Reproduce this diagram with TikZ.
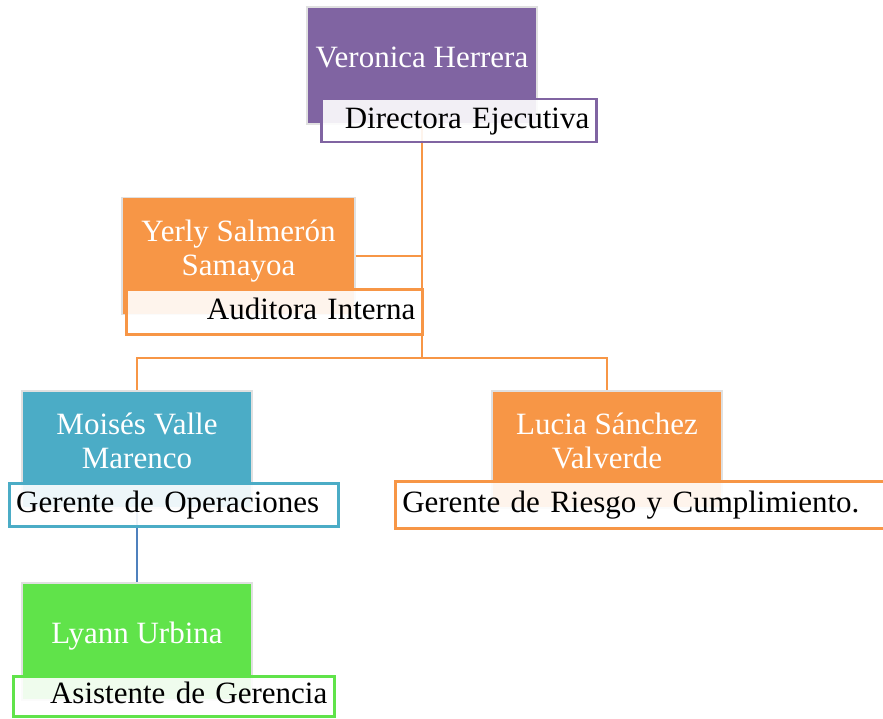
\documentclass[tikz,border=0pt]{standalone}
\usepackage{fontspec}
\setmainfont{Liberation Serif}
\usetikzlibrary{backgrounds}

\definecolor{morado}{HTML}{8064A2}
\definecolor{naranja}{HTML}{F79646}
\definecolor{celeste}{HTML}{4BACC6}
\definecolor{verde}{HTML}{60E34A}
\definecolor{azul}{HTML}{4F81BD}

\begin{document}
\begin{tikzpicture}[
    x=1pt, y=-1pt,
    every node/.style = {
      shape=rectangle,
      font=\fontsize{31}{34}\selectfont
    },
    namebox/.style = {
      fill=#1,
      draw=black!12,
      line width=1.5,
      minimum width=230,
      minimum height=117,
      inner sep=0,
      align=center,
      text=white,
      text depth=17.5
    },
    titlebox/.style = {
      anchor=north west,
      draw=#1,
      line width=2.5,
      fill=white,
      fill opacity=0.9,
      text opacity=1,
      minimum height=43,
      inner xsep=7,
      inner ysep=0,
      text height=22,
      text depth=7
    },
    link/.style = {
      draw=naranja,
      line width=2.5
    }
  ]

  \useasboundingbox (0,0) rectangle (883,719);

  \node[namebox=morado] (vero) at (422,65.5) {Veronica Herrera};
  \node[titlebox=morado, text width=261, align=right] (vero-t) at (320,98) {Directora Ejecutiva};

  \node[namebox=naranja, minimum width=233] (yerly) at (238.5,256) {Yerly Salmerón\\Samayoa};
  \node[titlebox=naranja, minimum height=45, text width=282, align=right] (yerly-t) at (125,288) {Auditora Interna};

  \node[namebox=celeste] (moises) at (137,449.5) {Moisés Valle\\Marenco};
  \node[titlebox=celeste, text width=315, align=left] (moises-t) at (8,482) {Gerente de Operaciones};

  \node[namebox=naranja] (lucia) at (607,449.5) {Lucia Sánchez\\Valverde};
  \node[titlebox=naranja, minimum height=47, text width=478, align=left] (lucia-t) at (394,480) {Gerente de Riesgo y Cumplimiento.};

  \node[namebox=verde] (lyann) at (137,641.5) {Lyann Urbina};
  \node[titlebox=verde, minimum height=40, text width=307, align=right] (lyann-t) at (12,675) {Asistente de Gerencia};

  \coordinate (hub) at (422,358);

  \begin{scope}[on background layer]
    \draw[link] (vero) -- (hub);
    \draw[link] (yerly.east) -- (yerly.east -| hub);
    \draw[link] (moises.north) |- (hub) -| (lucia.north);
    \draw[link, draw=azul] (moises) -- (lyann);
  \end{scope}

\end{tikzpicture}
\end{document}
